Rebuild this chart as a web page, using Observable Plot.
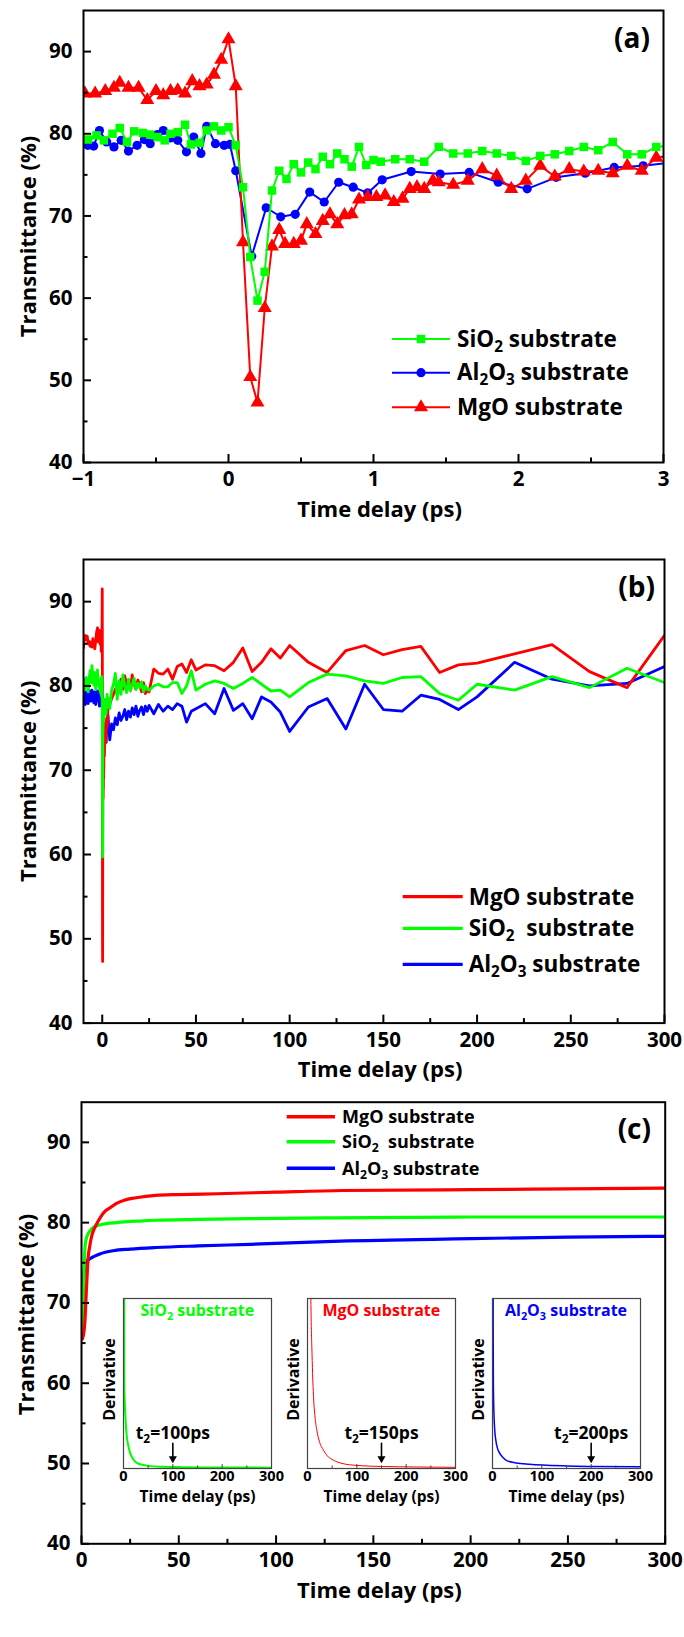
<!DOCTYPE html>
<html><head><meta charset="utf-8">
<script src="https://cdn.jsdelivr.net/npm/d3@7"></script>
<script src="https://cdn.jsdelivr.net/npm/@observablehq/plot@0.6"></script>
<style>
html,body{margin:0;padding:0;background:#fff;}
#root{position:relative;width:684px;height:1637px;overflow:hidden;}
.layer{position:absolute;}
</style></head><body><div id="root"></div>
<script>
const FONT = "'Open Sans', 'Noto Sans', sans-serif";
const RED = "#ff0000", GREEN = "#00ff00", BLUE = "#0000ff";

// ---------- Panel (a) data: time delay (ps) vs transmittance (%) ----------
const aSiO2X = [-0.97,-0.91,-0.86,-0.8,-0.75,-0.7,-0.65,-0.59,-0.54,-0.49,-0.44,-0.4,-0.35,-0.3,-0.26,-0.2,-0.15,-0.1,-0.05,0,
  0.05,0.1,0.15,0.2,0.25,0.3,0.35,0.4,0.45,0.5,0.55,0.6,0.65,0.7,0.75,0.8,0.85,0.9,0.95,1.0,1.05,
  1.15,1.25,1.35,1.45,1.55,1.65,1.75,1.85,1.95,2.05,2.15,2.25,2.35,2.45,2.55,2.65,2.75,2.85,2.95,3.05];
const aSiO2Y = [79.3,79.8,79.2,80.0,80.7,79.0,80.3,80.1,79.9,79.6,79.2,80.0,80.2,81.1,78.7,78.9,80.4,80.9,80.4,80.8,
  78.6,73.5,65.0,59.7,63.2,73.1,75.5,74.5,76.3,75.3,76.5,75.7,77.2,76.3,77.6,76.9,76.0,78.4,76.2,76.8,76.6,
  76.9,76.9,76.6,78.4,77.6,77.6,77.9,77.6,77.3,76.7,77.3,77.5,77.9,78.4,78.0,79.0,77.5,77.5,78.4,78.6];
const aAl2O3X = [-0.97,-0.93,-0.89,-0.84,-0.79,-0.74,-0.69,-0.63,-0.58,-0.54,-0.49,-0.45,-0.4,-0.35,-0.29,-0.24,-0.19,-0.15,-0.09,-0.03,0.01,
  0.05,0.16,0.26,0.36,0.46,0.56,0.66,0.76,0.86,0.96,1.06,1.26,1.46,1.66,1.86,2.06,2.26,2.46,2.66,2.86,3.06];
const aAl2O3Y = [78.6,78.5,80.4,79.0,78.4,79.2,77.9,78.6,79.3,78.8,79.9,80.4,79.5,79.2,77.8,79.6,77.6,80.9,78.8,78.6,78.7,
  75.5,65.1,71.0,69.9,70.2,72.9,71.7,74.1,73.5,72.8,74.4,75.4,75.1,75.3,74.1,73.3,74.7,75.2,75.9,76.1,76.5];
const aMgOX = [-0.99,-0.92,-0.85,-0.79,-0.75,-0.69,-0.62,-0.56,-0.5,-0.45,-0.4,-0.35,-0.3,-0.25,-0.2,-0.15,-0.1,-0.05,0,
  0.05,0.1,0.15,0.2,0.25,0.3,0.35,0.39,0.45,0.5,0.54,0.6,0.65,0.7,0.75,0.8,0.85,0.9,0.96,1.02,
  1.08,1.14,1.2,1.25,1.3,1.35,1.41,1.45,
  1.55,1.65,1.75,1.85,1.95,2.05,2.15,2.25,2.35,2.45,2.55,2.65,2.75,2.85,2.95,3.05];
const aMgOY = [84.9,84.9,85.2,85.6,86.2,85.6,85.6,84.1,85.2,84.7,85.2,85.3,84.9,86.4,85.8,86.0,87.2,89.0,91.5,
  85.8,66.8,50.4,47.3,58.8,66.3,68.3,66.6,66.6,67.0,69.0,67.8,69.4,70.2,69.0,70.1,70.2,72.0,72.3,72.3,
  72.5,71.7,72.1,73.3,73.5,73.3,74.3,74.1,
  73.8,74.3,75.7,74.9,73.3,74.3,76.1,74.8,75.7,75.4,75.5,75.2,76.1,75.5,77.1,77.3];

// ---------- Panel (b) data (long window; includes the panel (a) points) ----------
const bPreX = [-10,-9.5,-9,-8.5,-8,-7.5,-7,-6.5,-6,-5.5,-5,-4.5,-4,-3.5,-3,-2.5,-2,-1.5];
const bMgOPre   = [84.5,85.8,86.0,85.5,85.9,85.0,85.3,84.7,85.2,84.6,85.6,85.1,84.4,85.3,86.4,86.9,85.2,86.6];
const bSiO2Pre  = [80.0,79.5,80.5,81.0,80.2,79.3,80.8,81.8,80.4,82.4,81.0,80.1,81.6,79.6,80.7,81.9,80.3,79.8];
const bAl2O3Pre = [80.8,79.2,77.8,78.9,79.3,77.9,78.6,79.4,78.2,79.5,79.1,78.0,79.3,77.8,78.5,79.4,78.9,77.6];
const bMidX = [4,5,6,7,8,9,10,11,12,13,14,15,16,17,18,19,20,21,22,23,24];
const bMgOMid   = [77.8,78.5,79.0,79.6,79.1,80.2,80.8,79.6,81.2,80.1,80.6,79.7,81.3,80.2,79.6,80.7,80.0,79.3,80.4,79.1,79.5];
const bSiO2Mid  = [77.3,79.5,80.2,81.5,78.4,80.6,79.0,81.3,80.0,79.2,80.8,79.4,80.1,80.9,79.6,80.3,79.8,80.5,79.3,80.0,79.6];
const bAl2O3Mid = [73.6,75.5,74.8,76.2,75.4,76.8,75.9,76.4,77.2,76.0,77.0,76.3,77.4,76.6,77.6,76.4,77.1,77.5,76.6,77.6,77.0];
const bLateX = [25,27.5,30,32.5,35,37.5,40,42.5,45,47.5,50,55,60,65,70,75,80,85,90,95,100,110,120,130,140,150,160,170,180,190,200,220,240,260,280,300];
const bMgOLate   = [79.3,82.0,81.5,81.4,82.0,80.8,82.3,82.6,81.6,83.1,81.9,82.5,82.4,81.8,82.8,84.5,81.7,82.8,84.4,83.3,84.8,82.8,81.6,84.2,84.8,83.7,84.3,84.7,81.6,82.5,82.7,83.8,84.9,81.7,79.8,86.0];
const bSiO2Late  = [79.5,80.0,80.2,79.9,79.9,80.4,80.4,79.1,80.0,81.8,79.5,80.2,80.6,80.3,79.7,80.3,81.0,80.2,79.4,79.5,78.7,80.4,81.4,81.2,80.6,80.3,81.0,81.1,79.1,78.3,80.2,79.5,81.1,79.8,82.1,80.4];
const bAl2O3Late = [77.7,76.7,77.8,77.0,77.6,77.2,77.9,77.6,75.7,77.0,77.3,77.9,76.7,79.7,77.1,77.9,76.1,78.7,78.1,76.9,74.6,77.5,78.5,74.9,80.2,77.2,77.0,78.9,78.4,77.2,78.7,82.8,80.8,80.0,80.3,82.3];

// ---------- Panel (c) data (fitted curves) ----------
const cMgOX = [0.4,0.8,1.2,1.7,2.3,3,3.4,4.2,5.1,6.3,7.7,9.8,12,15,18,22,28,38,50,70,100,134,200,250,300];
const cMgOY = [65.5,65.8,66.3,67.5,70.5,74.0,75.6,77.0,78.2,79.1,79.8,80.7,81.4,81.9,82.4,82.8,83.1,83.4,83.5,83.6,83.8,84.0,84.1,84.2,84.3];
const cSiO2X = [0.3,0.6,1.0,1.4,1.7,2.3,3.4,4.5,6,8,11.1,18,30,38.5,60,87,130,200,300];
const cSiO2Y = [66.0,68.5,71.5,74.5,76.6,77.8,78.6,79.0,79.4,79.6,79.8,80.0,80.2,80.3,80.4,80.5,80.6,80.7,80.7];
const cAl2O3X = [0.5,1.0,1.7,2.5,4.3,6.5,9.4,16.3,25,38.5,60,87,133,200,250,300];
const cAl2O3Y = [70.0,72.5,74.7,75.1,75.5,75.8,76.1,76.5,76.7,76.9,77.1,77.3,77.7,78.0,78.2,78.3];

// ---------- Insets: normalized derivative ----------
const dSiO2X = [1.3,1.4,1.6,2.5,4,5.5,7.5,10.2,13,16.9,21,27,38,54,80,120,200,300];
const dSiO2Y = [1.05,0.75,0.5,0.4,0.3,0.225,0.17,0.128,0.095,0.069,0.05,0.033,0.022,0.014,0.01,0.008,0.006,0.005];
const dMgOX = [6.3,6.8,7.5,8.8,10.3,12.2,15,18.9,24,32.3,40,52.4,70,100,150,220,300];
const dMgOY = [1.1,1.0,0.86,0.716,0.56,0.422,0.31,0.225,0.16,0.108,0.075,0.049,0.03,0.018,0.012,0.009,0.007];
const dAl2O3X = [1.3,1.4,1.8,2.5,4,6.7,10,13.5,20.3,30,47.4,75,101.6,150,200,300];
const dAl2O3Y = [1.05,0.8,0.5,0.37,0.25,0.167,0.12,0.095,0.068,0.045,0.033,0.025,0.02,0.015,0.012,0.01];
const insetT2 = [100, 150, 200];          // t2 marked by arrows (ps)
const arrowTop = 0.149, arrowBase = 0.058, labelLevel = 0.172;

// ---------- Tick values ----------
const yMajor = [40,50,60,70,80,90];
const yMinor = [45,55,65,75,85];
const aXMajor = [-1,0,1,2,3];
const aXMinor = [-0.5,0.5,1.5,2.5];
const bXMajor = [0,50,100,150,200,250,300];
const bXMinor = [25,75,125,175,225,275];
const insetMajor = [0,100,200,300];
const insetMinor = [50,150,250];

// ---------- helpers ----------
const zip = (xs, ys) => xs.map((x, i) => ({x, y: ys[i]}));
const fmt = d => d < 0 ? "\u2212" + (-d) : String(d);
const root = document.getElementById("root");

function place(node, left, top) {
  const div = document.createElement("div");
  div.className = "layer";
  div.style.left = left + "px";
  div.style.top = top + "px";
  div.appendChild(node);
  root.appendChild(div);
  return node;
}

function subscriptify(rootNode) {
  rootNode.querySelectorAll("text").forEach(t => {
    const s = t.textContent;
    if (!s.includes("_")) return;
    const fs = parseFloat(getComputedStyle(t).fontSize) || 16;
    const shift = fs * 0.22;
    while (t.firstChild) t.removeChild(t.firstChild);
    const parts = s.split(/_(\d)/);
    let down = false;
    parts.forEach((p, i) => {
      if (!p) return;
      const ts = document.createElementNS("http://www.w3.org/2000/svg", "tspan");
      ts.textContent = p;
      if (i % 2 === 1) {
        ts.setAttribute("font-size", (fs * 0.68).toFixed(2));
        if (!down) { ts.setAttribute("dy", shift.toFixed(2)); down = true; }
      } else if (down) {
        ts.setAttribute("dy", (-shift).toFixed(2)); down = false;
      }
      t.appendChild(ts);
    });
  });
}

function mainPanel(cfg) {
  const {top, height, ml, mr, mt, mb, xDomain, xMajor, xMinor, series, strokeWidth, yTitleDx, yTitleDy} = cfg;
  const fh = height - mt - mb, fw = 684 - ml - mr;
  const marks = [];
  for (const s of series) {
    marks.push(Plot.line(s.data, {x: "x", y: "y", stroke: s.color, strokeWidth, curve: s.curve || "linear", clip: true}));
    if (s.symbol) marks.push(Plot.dot(s.data, {x: "x", y: "y", symbol: s.symbol, r: s.r, fill: s.color, clip: true}));
  }
  marks.push(
    Plot.tickX(xMajor, {x: d => d, stroke: "black", strokeWidth: 2, insetTop: fh - 8}),
    Plot.tickX(xMinor, {x: d => d, stroke: "black", strokeWidth: 2, insetTop: fh - 4.5}),
    Plot.tickY(yMajor, {y: d => d, stroke: "black", strokeWidth: 2, insetRight: fw - 8}),
    Plot.tickY(yMinor, {y: d => d, stroke: "black", strokeWidth: 2, insetRight: fw - 4.5}),
    Plot.frame({stroke: "black", strokeWidth: 2}),
    Plot.axisX({ticks: xMajor, tickSize: 0, tickPadding: 9, tickFormat: fmt, fontSize: 20.5, fontWeight: "bold", label: null}),
    Plot.axisY({ticks: yMajor, tickSize: 0, tickPadding: 11, fontSize: 20.5, fontWeight: "bold", label: null}),
    Plot.text(["Time delay (ps)"], {text: d => d, frameAnchor: "bottom", dx: 6, dy: 54, lineAnchor: "bottom", textAnchor: "middle", fontSize: 22, fontWeight: "bold"}),
    Plot.text(["Transmittance (%)"], {text: d => d, frameAnchor: "left", dx: yTitleDx, dy: yTitleDy, rotate: -90, lineAnchor: "bottom", textAnchor: "middle", fontSize: 22, fontWeight: "bold"})
  );
  const svg = Plot.plot({
    width: 684, height, marginLeft: ml, marginRight: mr, marginTop: mt, marginBottom: mb,
    x: {domain: xDomain}, y: {domain: [40, 95]},
    style: {fontFamily: FONT, color: "black", background: "transparent", overflow: "visible"},
    marks
  });
  place(svg, 0, top);
  return svg;
}

// Panel (a)
mainPanel({top: 0, height: 530, ml: 83, mr: 21, mt: 10, mb: 68, xDomain: [-1, 3], xMajor: aXMajor, xMinor: aXMinor,
  strokeWidth: 2, yTitleDx: -48, yTitleDy: 0,
  series: [
    {data: zip(aAl2O3X, aAl2O3Y), color: BLUE, symbol: "circle", r: 4.6},
    {data: zip(aMgOX, aMgOY), color: RED, symbol: "triangle", r: 5.2},
    {data: zip(aSiO2X, aSiO2Y), color: GREEN, symbol: "square", r: 4.8}
  ]});

// Panel (b)
const bMgO = zip(bPreX, bMgOPre).concat(zip(aMgOX, aMgOY), zip(bMidX, bMgOMid), zip(bLateX, bMgOLate));
const bSiO2 = zip(bPreX, bSiO2Pre).concat(zip(aSiO2X, aSiO2Y), zip(bMidX, bSiO2Mid), zip(bLateX, bSiO2Late));
const bAl2O3 = zip(bPreX, bAl2O3Pre).concat(zip(aAl2O3X, aAl2O3Y), zip(bMidX, bAl2O3Mid), zip(bLateX, bAl2O3Late));
mainPanel({top: 530, height: 555, ml: 83, mr: 20, mt: 29, mb: 62.4, xDomain: [-10, 300], xMajor: bXMajor, xMinor: bXMinor,
  strokeWidth: 2.8, yTitleDx: -48, yTitleDy: -10,
  series: [
    {data: bAl2O3, color: BLUE},
    {data: bMgO, color: RED},
    {data: bSiO2, color: GREEN}
  ]});

// Panel (c)
mainPanel({top: 1085, height: 552, ml: 81, mr: 19.3, mt: 16.7, mb: 93.7, xDomain: [0, 300], xMajor: bXMajor, xMinor: bXMinor,
  strokeWidth: 3.2, yTitleDx: -47.5, yTitleDy: -8.5,
  series: [
    {data: zip(cAl2O3X, cAl2O3Y), color: BLUE, curve: "monotone-x"},
    {data: zip(cSiO2X, cSiO2Y), color: GREEN, curve: "monotone-x"},
    {data: zip(cMgOX, cMgOY), color: RED, curve: "monotone-x"}
  ]});

// Insets
const insets = [
  {data: zip(dSiO2X, dSiO2Y), color: GREEN, width: 2, left: 123.3, t2: insetT2[0]},
  {data: zip(dMgOX, dMgOY), color: RED, width: 1, left: 307.3, t2: insetT2[1]},
  {data: zip(dAl2O3X, dAl2O3Y), color: BLUE, width: 1.5, left: 492, t2: insetT2[2]}
];
const iml = 26, imr = 14, imt = 2, imb = 38, ibw = 148, ibh = 170, iTop = 1298.3;
const insetSvgs = insets.map(ins => {
  const svg = Plot.plot({
    width: iml + ibw + imr, height: imt + ibh + imb, marginLeft: iml, marginRight: imr, marginTop: imt, marginBottom: imb,
    x: {domain: [0, 300]}, y: {domain: [0, 1], axis: null},
    style: {fontFamily: FONT, color: "black", background: "transparent", overflow: "visible"},
    marks: [
      Plot.line(ins.data, {x: "x", y: "y", stroke: ins.color, strokeWidth: ins.width, curve: "monotone-x", clip: true}),
      Plot.frame({stroke: "#444", strokeWidth: 1.2}),
      Plot.tickX(insetMajor, {x: d => d, stroke: "#444", strokeWidth: 1, insetTop: ibh - 4}),
      Plot.tickX(insetMinor, {x: d => d, stroke: "#444", strokeWidth: 1, insetTop: ibh - 2.5}),
      Plot.axisX({ticks: insetMajor, tickSize: 0, tickPadding: 2.4, fontSize: 14.5, fontWeight: "bold", label: null}),
      Plot.text(["Time delay (ps)"], {text: d => d, frameAnchor: "bottom", dy: 33.7, lineAnchor: "bottom", textAnchor: "middle", fontSize: 15.5, fontWeight: "bold"}),
      Plot.text(["Derivative"], {text: d => d, frameAnchor: "left", dx: -8.3, dy: -4, rotate: -90, lineAnchor: "bottom", textAnchor: "middle", fontSize: 16, fontWeight: "bold"}),
      Plot.ruleX([ins.t2], {x: d => d, y1: () => arrowTop, y2: () => arrowBase, stroke: "black", strokeWidth: 1.6}),
      Plot.dot([ins.t2], {x: d => d, y: () => arrowBase, symbol: "triangle", rotate: 180, r: 3, fill: "black"}),
      Plot.text([ins.t2], {x: d => d, y: () => labelLevel, text: d => `t_2=${d}ps`, lineAnchor: "bottom", textAnchor: "middle", fontSize: 17.5, fontWeight: "bold"})
    ]
  });
  return place(svg, ins.left - iml, iTop - imt);
});

// Overlay: legends, panel letters, inset titles
const ov = d3.create("svg").attr("width", 684).attr("height", 1637)
  .style("position", "absolute").style("left", "0px").style("top", "0px").style("pointer-events", "none");
root.appendChild(ov.node());

function addText(x, y, text, size, color = "black", anchor = "start") {
  ov.append("text").attr("x", x).attr("y", y).attr("font-size", size).attr("font-weight", "bold")
    .attr("font-family", FONT).attr("fill", color).attr("text-anchor", anchor).style("white-space", "pre").text(text);
}
const symbolOf = {square: d3.symbolSquare, circle: d3.symbolCircle, triangle: d3.symbolTriangle};
function legend(rows, {x1, x2, xText, size, lw}) {
  for (const r of rows) {
    ov.append("line").attr("x1", x1).attr("x2", x2).attr("y1", r.yc).attr("y2", r.yc).attr("stroke", r.color).attr("stroke-width", lw);
    if (r.symbol) ov.append("path").attr("d", d3.symbol(symbolOf[r.symbol], Math.PI * r.r * r.r)())
      .attr("transform", `translate(${(x1 + x2) / 2},${r.yc})`).attr("fill", r.color);
    addText(xText, r.base, r.label, size);
  }
}
legend([
  {label: "SiO_2 substrate", color: GREEN, symbol: "square", r: 4.8, yc: 339, base: 346.7},
  {label: "Al_2O_3 substrate", color: BLUE, symbol: "circle", r: 4.6, yc: 372.7, base: 380},
  {label: "MgO substrate", color: RED, symbol: "triangle", r: 5.2, yc: 407.3, base: 415}
], {x1: 392, x2: 450, xText: 457, size: 22.5, lw: 2});
legend([
  {label: "MgO substrate", color: RED, yc: 896.7, base: 905},
  {label: "SiO_2  substrate", color: GREEN, yc: 928.3, base: 936},
  {label: "Al_2O_3 substrate", color: BLUE, yc: 964.3, base: 972.3}
], {x1: 402.7, x2: 462.7, xText: 468.7, size: 22.5, lw: 3.2});
legend([
  {label: "MgO substrate", color: RED, yc: 1116.7, base: 1123.3},
  {label: "SiO_2  substrate", color: GREEN, yc: 1141.7, base: 1148.3},
  {label: "Al_2O_3 substrate", color: BLUE, yc: 1168.3, base: 1175}
], {x1: 286.7, x2: 335, xText: 342, size: 18, lw: 3.5});

addText(650, 48, "(a)", 28, "black", "end");
addText(655, 597, "(b)", 28, "black", "end");
addText(651, 1139, "(c)", 28, "black", "end");

const insetTitles = ["SiO_2 substrate", "MgO substrate", "Al_2O_3 substrate"];
insets.forEach((ins, i) => addText(ins.left + ibw / 2, 1316, insetTitles[i], 16, ins.color, "middle"));

subscriptify(ov.node());
insetSvgs.forEach(s => subscriptify(s));
</script></body></html>
